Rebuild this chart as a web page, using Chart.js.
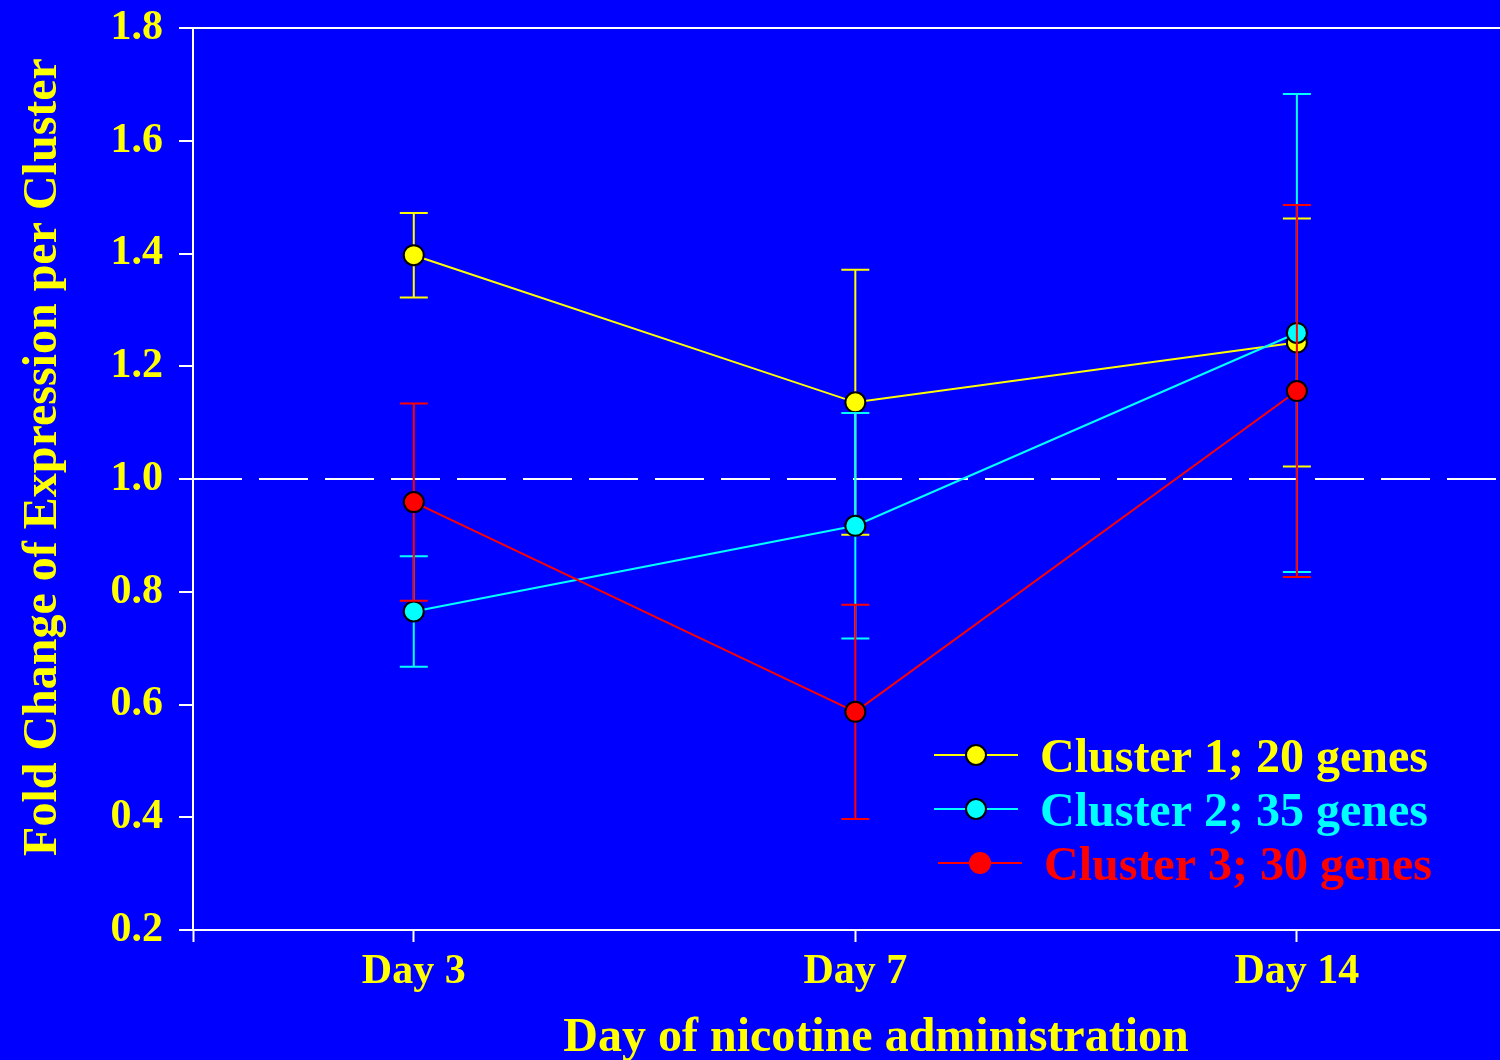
<!DOCTYPE html>
<html>
<head>
<meta charset="utf-8">
<script src="https://cdn.jsdelivr.net/npm/chart.js@4.4.1/dist/chart.umd.min.js"></script>
<style>
  html, body { margin: 0; padding: 0; background: #0000ff; overflow: hidden; }
  #wrap { width: 1500px; height: 1060px; }
</style>
</head>
<body>
<div id="wrap"><canvas id="myChart" width="1500" height="1060"></canvas></div>
<script>
// Data
const days = ["Day 3", "Day 7", "Day 14"];
const yTicks = [0.2, 0.4, 0.6, 0.8, 1.0, 1.2, 1.4, 1.6, 1.8];
const legendLabels = ["Cluster 1; 20 genes", "Cluster 2; 35 genes", "Cluster 3; 30 genes"];
const cluster1 = [1.397, 1.136, 1.242];
const cluster1Err = [0.075, 0.235, 0.22];
const cluster2 = [0.765, 0.917, 1.259];
const cluster2Err = [0.098, 0.2, 0.424];
const cluster3 = [0.959, 0.587, 1.156];
const cluster3Err = [0.175, 0.19, 0.33];
const refLine = 1.0;
const xTitle = "Day of nicotine administration";
const yTitle = "Fold Change of Expression per Cluster";

const YELLOW = "#ffff00";
const CYAN = "#00ffff";
const RED = "#ff0000";
const FONT = "'Liberation Serif', 'Times New Roman', serif";

const ctx = document.getElementById("myChart").getContext("2d");

//Helper functions
const toPoints = (arr) => arr.map((v, i) => ({ x: i, y: v }));

const makeDataset = (label, values, errors, color, order) => ({
  label: label,
  data: toPoints(values),
  errors: errors,
  borderColor: color,
  backgroundColor: color,
  borderWidth: 2,
  pointRadius: 10,
  pointBorderWidth: 2,
  pointBorderColor: "#000000",
  pointBackgroundColor: color,
  order: order,
  clip: false,
});

//Error bars, drawn just before each dataset
const errorBars = {
  id: "errorBars",
  beforeDatasetDraw: (chart, args) => {
    const ds = chart.data.datasets[args.index];
    const ys = chart.scales.y;
    const c = chart.ctx;
    c.save();
    c.strokeStyle = ds.borderColor;
    c.lineWidth = 2;
    args.meta.data.forEach((pt, i) => {
      const v = ds.data[i].y;
      const e = ds.errors[i];
      const top = ys.getPixelForValue(v + e);
      const bot = ys.getPixelForValue(v - e);
      c.beginPath();
      c.moveTo(pt.x, top);
      c.lineTo(pt.x, bot);
      c.moveTo(pt.x - 14, top);
      c.lineTo(pt.x + 14, top);
      c.moveTo(pt.x - 14, bot);
      c.lineTo(pt.x + 14, bot);
      c.stroke();
    });
    c.restore();
  },
};

//Dashed line at fold change 1.0
const dashedLine = {
  id: "dashedLine",
  beforeDatasetsDraw: (chart) => {
    const { left, right } = chart.chartArea;
    const y = chart.scales.y.getPixelForValue(refLine);
    const c = chart.ctx;
    c.save();
    c.strokeStyle = "#ffffff";
    c.lineWidth = 2;
    c.setLineDash([49, 17]);
    c.beginPath();
    c.moveTo(left, y);
    c.lineTo(right, y);
    c.stroke();
    c.restore();
  },
};

//Axis titles (placed a bit off-centre like the original slide)
const axisTitles = {
  id: "axisTitles",
  afterDraw: (chart) => {
    const c = chart.ctx;
    c.save();
    c.font = "bold 48px " + FONT;
    c.fillStyle = YELLOW;
    c.textAlign = "center";
    c.textBaseline = "alphabetic";
    c.fillText(xTitle, 876, 1051);
    c.translate(56, 457);
    c.rotate(-Math.PI / 2);
    c.fillText(yTitle, 0, 0);
    c.restore();
  },
};

//Legend in the lower right corner
const boxLegend = {
  id: "boxLegend",
  afterDraw: (chart) => {
    const c = chart.ctx;
    const rows = [
      { y: 755, x0: 934, x1: 1018, mx: 976, tx: 1040, r: 10, border: true },
      { y: 809, x0: 934, x1: 1018, mx: 976, tx: 1040, r: 10, border: true },
      { y: 863, x0: 938, x1: 1022, mx: 980, tx: 1044, r: 11, border: false },
    ];
    c.save();
    chart.data.datasets.forEach((ds, i) => {
      const row = rows[i];
      c.strokeStyle = ds.borderColor;
      c.lineWidth = 2;
      c.beginPath();
      c.moveTo(row.x0, row.y);
      c.lineTo(row.x1, row.y);
      c.stroke();
      c.beginPath();
      c.arc(row.mx, row.y, row.r, 0, Math.PI * 2);
      c.fillStyle = ds.borderColor;
      c.fill();
      if (row.border) {
        c.strokeStyle = "#000000";
        c.stroke();
      }
      c.font = "bold 48px " + FONT;
      c.textAlign = "left";
      c.textBaseline = "middle";
      c.fillStyle = ds.borderColor;
      c.fillText(legendLabels[i], row.tx, row.y + 5);
    });
    c.restore();
  },
};

const myChart = new Chart(ctx, {
  type: "line",
  data: {
    datasets: [
      makeDataset(legendLabels[0], cluster1, cluster1Err, YELLOW, 3),
      makeDataset(legendLabels[1], cluster2, cluster2Err, CYAN, 2),
      makeDataset(legendLabels[2], cluster3, cluster3Err, RED, 1),
    ],
  },
  options: {
    responsive: false,
    animation: false,
    layout: {
      autoPadding: false,
      padding: { top: 28, right: 0, left: 0, bottom: 0 },
    },
    plugins: {
      legend: { display: false },
      tooltip: { enabled: false },
    },
    scales: {
      x: {
        type: "linear",
        min: -0.5,
        max: 2.46,
        afterBuildTicks: (scale) => {
          scale.ticks = [-0.5, 0, 1, 2].map((v) => ({ value: v }));
        },
        afterFit: (scale) => {
          scale.height = 130;
        },
        ticks: {
          autoSkip: false,
          maxRotation: 0,
          padding: 5,
          color: YELLOW,
          font: { family: FONT, size: 42, weight: "bold" },
          callback: (v) => (days[v] !== undefined ? days[v] : ""),
        },
        grid: {
          display: true,
          drawOnChartArea: false,
          drawTicks: true,
          tickLength: 12,
          tickWidth: 2,
          tickColor: "#ffffff",
        },
        border: { display: true, color: "#ffffff", width: 2 },
        title: { display: false },
      },
      y: {
        min: 0.2,
        max: 1.8,
        afterBuildTicks: (scale) => {
          scale.ticks = yTicks.map((v) => ({ value: v }));
        },
        afterFit: (scale) => {
          scale.width = 193;
          scale.paddingTop = 0;
          scale.paddingBottom = 0;
        },
        ticks: {
          padding: 16,
          color: YELLOW,
          font: { family: FONT, size: 42, weight: "bold" },
          callback: (v) => v.toFixed(1),
        },
        grid: {
          display: true,
          drawOnChartArea: true,
          drawTicks: true,
          tickLength: 14,
          tickWidth: 2,
          lineWidth: 2,
          tickColor: "#ffffff",
          color: (c) => (c.tick && Math.abs(c.tick.value - 1.8) < 1e-9 ? "#ffffff" : "rgba(0,0,0,0)"),
        },
        border: { display: true, color: "#ffffff", width: 2 },
        title: { display: false },
      },
    },
  },
  plugins: [dashedLine, errorBars, axisTitles, boxLegend],
});
</script>
</body>
</html>
